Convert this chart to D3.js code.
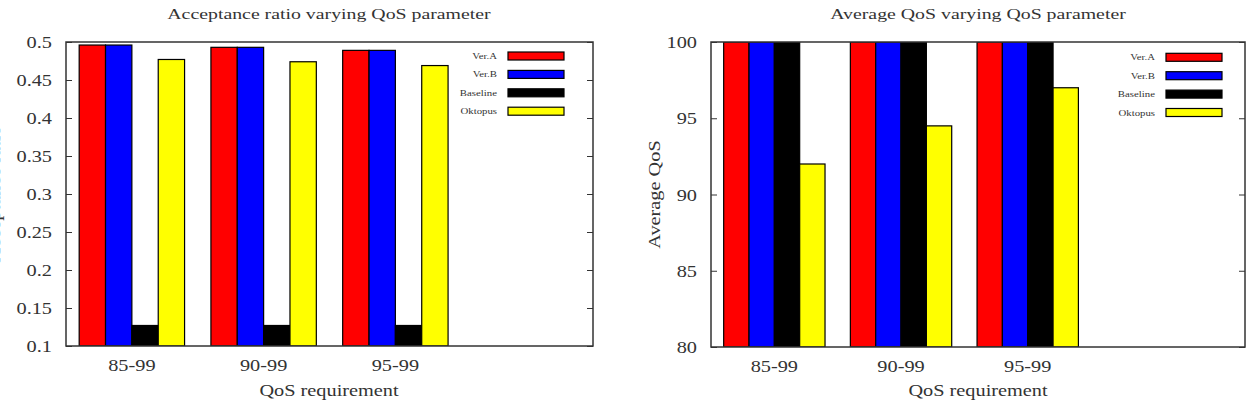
<!DOCTYPE html>
<html>
<head>
<meta charset="utf-8">
<title>QoS charts</title>
<script src="https://cdnjs.cloudflare.com/ajax/libs/d3/7.8.5/d3.min.js"></script>
<style>
  body { margin: 0; background: #fff; }
  svg { display: block; }
  text { font-family: "Liberation Serif", "Times New Roman", serif; fill: #333; }
</style>
</head>
<body>
<div id="chart"></div>
<script>
// data
var groups = ["85-99", "90-99", "95-99"];
var seriesNames = ["Ver.A", "Ver.B", "Baseline", "Oktopus"];
var seriesColors = ["#ff0000", "#0000ff", "#000000", "#ffff00"];

var ratioVerA = [0.496, 0.493, 0.489];
var ratioVerB = [0.496, 0.493, 0.489];
var ratioBase = [0.127, 0.127, 0.127];
var ratioOkto = [0.477, 0.474, 0.469];

var qosVerA = [100, 100, 100];
var qosVerB = [100, 100, 100];
var qosBase = [100, 100, 100];
var qosOkto = [92, 94.5, 97];

var ratioTicks = [0.1, 0.15, 0.2, 0.25, 0.3, 0.35, 0.4, 0.45, 0.5];
var qosTicks = [80, 85, 90, 95, 100];

var W = 1251, H = 401;
var squash = 1.27; // the picture is stretched sideways

var svg = d3.select("#chart").append("svg")
    .attr("width", W)
    .attr("height", H);

// text with the horizontal stretch of the source image
function label(g, x, y, str, size, anchor, rotate) {
    var t = g.append("text")
        .attr("transform", "translate(" + x + "," + y + ")" +
            (rotate ? " rotate(-90) scale(" + squash + ",1)" : " scale(" + squash + ",1)"))
        .attr("text-anchor", anchor)
        .style("font-size", size + "px")
        .text(str);
    return t;
}

function drawChart(opt) {
    var g = svg.append("g");
    var x = d3.scaleLinear().domain(opt.xDomain).range([opt.left, opt.right]);
    var y = d3.scaleLinear().domain(opt.yDomain).range([opt.bottom, opt.top]);
    var bw = x(0.2) - x(0);

    // clip so bars at the max do not poke above the frame
    var clipId = "clip" + opt.id;
    svg.append("clipPath").attr("id", clipId).append("rect")
        .attr("x", opt.left).attr("y", opt.top)
        .attr("width", opt.right - opt.left).attr("height", opt.bottom - opt.top);

    // inward ticks, left and right
    g.append("g")
        .attr("transform", "translate(" + opt.left + ",0)")
        .call(d3.axisLeft(y).tickValues(opt.ticks).tickSize(-6).tickFormat(""))
        .call(function(a) { a.select(".domain").remove(); a.selectAll("line").attr("stroke", "#333"); });
    g.append("g")
        .attr("transform", "translate(" + opt.right + ",0)")
        .call(d3.axisRight(y).tickValues(opt.ticks).tickSize(-6).tickFormat(""))
        .call(function(a) { a.select(".domain").remove(); a.selectAll("line").attr("stroke", "#333"); });

    // bars
    var bars = g.append("g").attr("clip-path", "url(#" + clipId + ")");
    opt.series.forEach(function(vals, si) {
        bars.selectAll(".s" + si)
            .data(vals)
            .enter().append("rect")
            .attr("x", function(d, i) { return x(i - 0.4 + 0.2 * si); })
            .attr("y", function(d) { return y(d); })
            .attr("width", bw)
            .attr("height", function(d) { return y(opt.yDomain[0]) - y(d); })
            .attr("fill", seriesColors[si])
            .attr("stroke", "#000")
            .attr("stroke-width", 1.2);
    });

    // frame
    g.append("rect")
        .attr("x", opt.left).attr("y", opt.top)
        .attr("width", opt.right - opt.left).attr("height", opt.bottom - opt.top)
        .attr("fill", "none")
        .attr("stroke", "#333")
        .attr("stroke-width", 1.5);

    // y tick labels
    opt.ticks.forEach(function(t) {
        label(g, opt.left - 14, y(t) + 6, opt.fmt(t), 16, "end");
    });
    // x tick labels
    groups.forEach(function(name, i) {
        label(g, x(i), opt.bottom + 25, name, 16, "middle");
    });

    // legend
    seriesNames.forEach(function(name, i) {
        var ly = opt.legendY + i * 18.4;
        label(g, opt.legendX - 11, ly + 3, name, 8.5, "end");
        g.append("rect")
            .attr("x", opt.legendX).attr("y", ly - 4)
            .attr("width", 56).attr("height", 8)
            .attr("fill", seriesColors[i])
            .attr("stroke", "#000")
            .attr("stroke-width", 1.2);
    });

    // titles
    label(g, opt.titleX, 19, opt.title, 15.6, "middle");
    label(g, opt.titleX, 396, "QoS requirement", 16, "middle");
    label(g, opt.yLabelX, (opt.top + opt.bottom) / 2, opt.yLabel, 16, "middle", true);
}

drawChart({
    id: "a",
    left: 66, right: 593, top: 42, bottom: 346,
    xDomain: [-0.5, 3.5],
    yDomain: [0.1, 0.5],
    ticks: ratioTicks,
    fmt: function(t) { return d3.format("")(+t.toFixed(2)); },
    series: [ratioVerA, ratioVerB, ratioBase, ratioOkto],
    legendX: 508, legendY: 56,
    title: "Acceptance ratio varying QoS parameter",
    titleX: 329,
    yLabel: "Acceptance ratio",
    yLabelX: 0
});

drawChart({
    id: "b",
    left: 711, right: 1245, top: 42, bottom: 347,
    xDomain: [-0.5, 3.715],
    yDomain: [80, 100],
    ticks: qosTicks,
    fmt: function(t) { return String(t); },
    series: [qosVerA, qosVerB, qosBase, qosOkto],
    legendX: 1166, legendY: 57.3,
    title: "Average QoS varying QoS parameter",
    titleX: 978,
    yLabel: "Average QoS",
    yLabelX: 660
});
</script>
</body>
</html>
